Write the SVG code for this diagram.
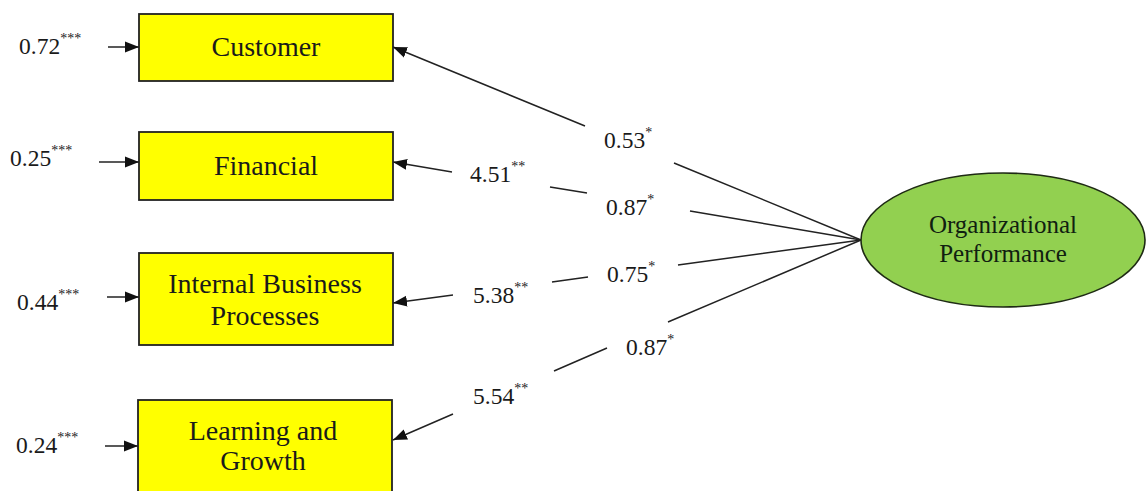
<svg xmlns="http://www.w3.org/2000/svg" width="1146" height="491" viewBox="0 0 1146 491">
<style>
.box{fill:#FFFF00;stroke:#222;stroke-width:1.8}
.ell{fill:#92D050;stroke:#1e2a14;stroke-width:1.6}
.tx{font-family:"Liberation Serif","DejaVu Serif","Times New Roman",serif;fill:#1a1a1a}
.nt{font-size:28px;text-anchor:middle}
.et{font-size:25px;text-anchor:middle;fill:#102010}
.lb{font-size:23.5px}
.sup{font-size:14px}
.ln{fill:none;stroke:#222;stroke-width:1.5}
</style>
<defs>
<marker id="ah" markerUnits="userSpaceOnUse" viewBox="0 0 15 12" markerWidth="15" markerHeight="12" refX="14" refY="6" orient="auto">
<path d="M0,0.5 L14,6 L0,11.5 z" fill="#111"/>
</marker>
</defs>
<g id="connectors">
<path class="ln" marker-end="url(#ah)" d="M861,240 L674,163 M585,126 L393,47"/>
<path class="ln" marker-end="url(#ah)" d="M861,240 L690,211 M587,193 L550,187 M452,172 L393,162"/>
<path class="ln" marker-end="url(#ah)" d="M861,240 L678,265 M588,277 L552,282 M453,295 L393,303"/>
<path class="ln" marker-end="url(#ah)" d="M861,240 L668,322 M607,348 L554,371 M453,414 L393,440"/>
<path class="ln" marker-end="url(#ah)" d="M108,47 L139,47"/>
<path class="ln" marker-end="url(#ah)" d="M99,162 L139,162"/>
<path class="ln" marker-end="url(#ah)" d="M107,297 L139,297"/>
<path class="ln" marker-end="url(#ah)" d="M105,446 L138,446"/>
</g>
<g class="tx">
<g id="customer">
<rect class="box" x="139" y="14" width="254" height="67"/>
<text class="tx nt" x="266" y="56">Customer</text>
</g>
<g id="financial">
<rect class="box" x="139" y="132" width="254" height="68"/>
<text class="tx nt" x="266" y="175">Financial</text>
</g>
<g id="internal">
<rect class="box" x="139" y="253" width="254" height="92"/>
<text class="tx nt" x="265" y="293">Internal Business</text>
<text class="tx nt" x="265" y="325">Processes</text>
</g>
<g id="learning">
<rect class="box" x="138" y="400" width="254" height="96"/>
<text class="tx nt" x="263" y="440">Learning and</text>
<text class="tx nt" x="263" y="470">Growth</text>
</g>
<g id="performance">
<ellipse class="ell" cx="1003" cy="240" rx="142" ry="67"/>
<text class="tx et" x="1003" y="233">Organizational</text>
<text class="tx et" x="1003" y="262">Performance</text>
</g>
<g id="labels">
<text class="tx lb" x="19" y="54">0.72<tspan class="sup" dy="-11">***</tspan></text>
<text class="tx lb" x="10" y="166">0.25<tspan class="sup" dy="-11">***</tspan></text>
<text class="tx lb" x="17" y="310">0.44<tspan class="sup" dy="-11">***</tspan></text>
<text class="tx lb" x="16" y="453">0.24<tspan class="sup" dy="-11">***</tspan></text>
<text class="tx lb" x="604" y="148">0.53<tspan class="sup" dy="-11">*</tspan></text>
<text class="tx lb" x="470" y="182">4.51<tspan class="sup" dy="-11">**</tspan></text>
<text class="tx lb" x="606" y="215">0.87<tspan class="sup" dy="-11">*</tspan></text>
<text class="tx lb" x="607" y="282">0.75<tspan class="sup" dy="-11">*</tspan></text>
<text class="tx lb" x="473" y="303">5.38<tspan class="sup" dy="-11">**</tspan></text>
<text class="tx lb" x="626" y="355">0.87<tspan class="sup" dy="-11">*</tspan></text>
<text class="tx lb" x="473" y="404">5.54<tspan class="sup" dy="-11">**</tspan></text>
</g>
</g>
</svg>
